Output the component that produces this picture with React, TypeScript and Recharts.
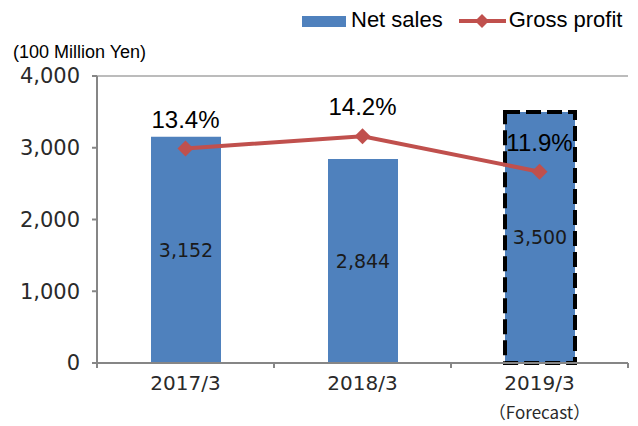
import React from "react"
import {
  ComposedChart, Bar, Line, XAxis, YAxis, CartesianGrid, Legend, Cell, LabelList,
} from "recharts"

const CATEGORIES = ["2017/3", "2018/3", "2019/3"]
const CATEGORY_NOTES = ["", "", "（Forecast）"]
const NET_SALES = [3152, 2844, 3500]
const GROSS_MARGIN = [13.4, 14.2, 11.9]
const FORECAST = [false, false, true]
const Y_TICKS = [0, 1000, 2000, 3000, 4000]

const BLUE = "#4F81BD"
const RED = "#C0504D"
const AXIS = "#868686"
const GRID = "#a6a6a6"
const SANS = "'Liberation Sans', Arial, 'Noto Sans CJK JP', sans-serif"
const CJK = "'Noto Sans CJK JP', 'Liberation Sans', sans-serif"
const WIDE = "'DejaVu Sans', 'Liberation Sans', sans-serif"

const data = CATEGORIES.map((name, i) => ({
  name,
  sales: NET_SALES[i],
  margin: GROSS_MARGIN[i],
  forecast: FORECAST[i],
}))

const fmt = (v: unknown) => Number(v).toLocaleString("en-US")

function XTick(props: any) {
  const { x, y, payload, index } = props
  const half = payload?.offset ?? 88.5
  const last = index === CATEGORIES.length - 1
  return (
    <g>
      <line x1={x - half} x2={x - half} y1={y} y2={y + 5} stroke={AXIS} strokeWidth={2} />
      {last && <line x1={x + half} x2={x + half} y1={y} y2={y + 5} stroke={AXIS} strokeWidth={2} />}
      <text x={x} y={y + 27} textAnchor="middle" fontSize={20} fontFamily={WIDE} fill="#2a2a2a">
        {payload.value}
      </text>
      {CATEGORY_NOTES[index] && (
        <text x={x} y={y + 56} textAnchor="middle" fontSize={17} fontFamily={CJK} fill="#2a2a2a">
          {CATEGORY_NOTES[index]}
        </text>
      )}
    </g>
  )
}

function Diamond(props: any) {
  const { cx, cy } = props
  if (cx == null || cy == null) return null
  const r = 8
  return <path d={`M${cx},${cy - r}L${cx + r},${cy}L${cx},${cy + r}L${cx - r},${cy}Z`} fill={RED} />
}

function PctLabel(props: any) {
  const { x, y, value } = props
  return (
    <text x={x} y={y - 21} textAnchor="middle" fontSize={24} fontFamily={SANS} fill="#000">
      {Number(value).toFixed(1)}%
    </text>
  )
}

function LegendBox() {
  return (
    <div style={{ display: "flex", alignItems: "center", fontFamily: SANS, fontSize: 22, lineHeight: "24px", color: "#000", whiteSpace: "nowrap" }}>
      <span style={{ display: "inline-block", width: 44, height: 11, background: BLUE, marginRight: 5, marginTop: 3 }} />
      <span>Net sales</span>
      <svg width={47} height={16} style={{ marginLeft: 16, marginRight: 3, marginTop: 2 }}>
        <line x1={0} x2={47} y1={8} y2={8} stroke={RED} strokeWidth={4} />
        <path d="M23,1L30,8L23,15L16,8Z" fill={RED} />
      </svg>
      <span>Gross profit</span>
    </div>
  )
}

export default function App() {
  return (
    <div style={{ position: "absolute", left: 0, top: 0, width: 638, height: 426, background: "#fff" }}>
      <div style={{ position: "absolute", left: 13, top: 42, fontFamily: SANS, fontSize: 18, lineHeight: "20px", color: "#000" }}>
        (100 Million Yen)
      </div>
      <ComposedChart width={638} height={426} data={data} margin={{ top: 76, right: 10, bottom: 0, left: 0 }}>
        <CartesianGrid vertical={false} stroke={GRID} strokeWidth={1.5} />
        <XAxis
          dataKey="name"
          height={63}
          axisLine={{ stroke: AXIS, strokeWidth: 2 }}
          tickLine={false}
          tickSize={0}
          tickMargin={0}
          tick={<XTick />}
          interval={0}
        />
        <YAxis
          yAxisId="sales"
          width={97}
          domain={[0, 4000]}
          ticks={Y_TICKS}
          tickFormatter={fmt}
          axisLine={{ stroke: AXIS, strokeWidth: 2 }}
          tickLine={{ stroke: AXIS, strokeWidth: 2 }}
          tickSize={5}
          tickMargin={12}
          tick={{ fontSize: 21, fill: "#2a2a2a", fontFamily: WIDE }}
        />
        <YAxis
          yAxisId="pct"
          orientation="right"
          width={0}
          domain={[-0.5, 18.1]}
          tick={false}
          tickLine={false}
          axisLine={{ stroke: AXIS, strokeWidth: 2 }}
        />
        <Legend
          layout="horizontal"
          verticalAlign="middle"
          align="center"
          wrapperStyle={{ top: 8, left: 302, right: "auto", bottom: "auto", width: 330 }}
          content={() => <LegendBox />}
        />
        <Bar yAxisId="sales" dataKey="sales" name="Net sales" fill={BLUE} barSize={70} isAnimationActive={false}>
          {data.map((d, i) => (
            <Cell
              key={i}
              fill={BLUE}
              stroke={d.forecast ? "#000" : "none"}
              strokeWidth={d.forecast ? 4 : 0}
              strokeDasharray={d.forecast ? "15 6" : undefined}
            />
          ))}
          <LabelList dataKey="sales" position="center" formatter={fmt} style={{ fontSize: 19, fontFamily: WIDE, fill: "#1a1a1a" }} />
        </Bar>
        <Line
          yAxisId="pct"
          dataKey="margin"
          name="Gross profit"
          stroke={RED}
          strokeWidth={4}
          dot={<Diamond />}
          activeDot={false}
          isAnimationActive={false}
        >
          <LabelList dataKey="margin" content={<PctLabel />} />
        </Line>
      </ComposedChart>
    </div>
  )
}
